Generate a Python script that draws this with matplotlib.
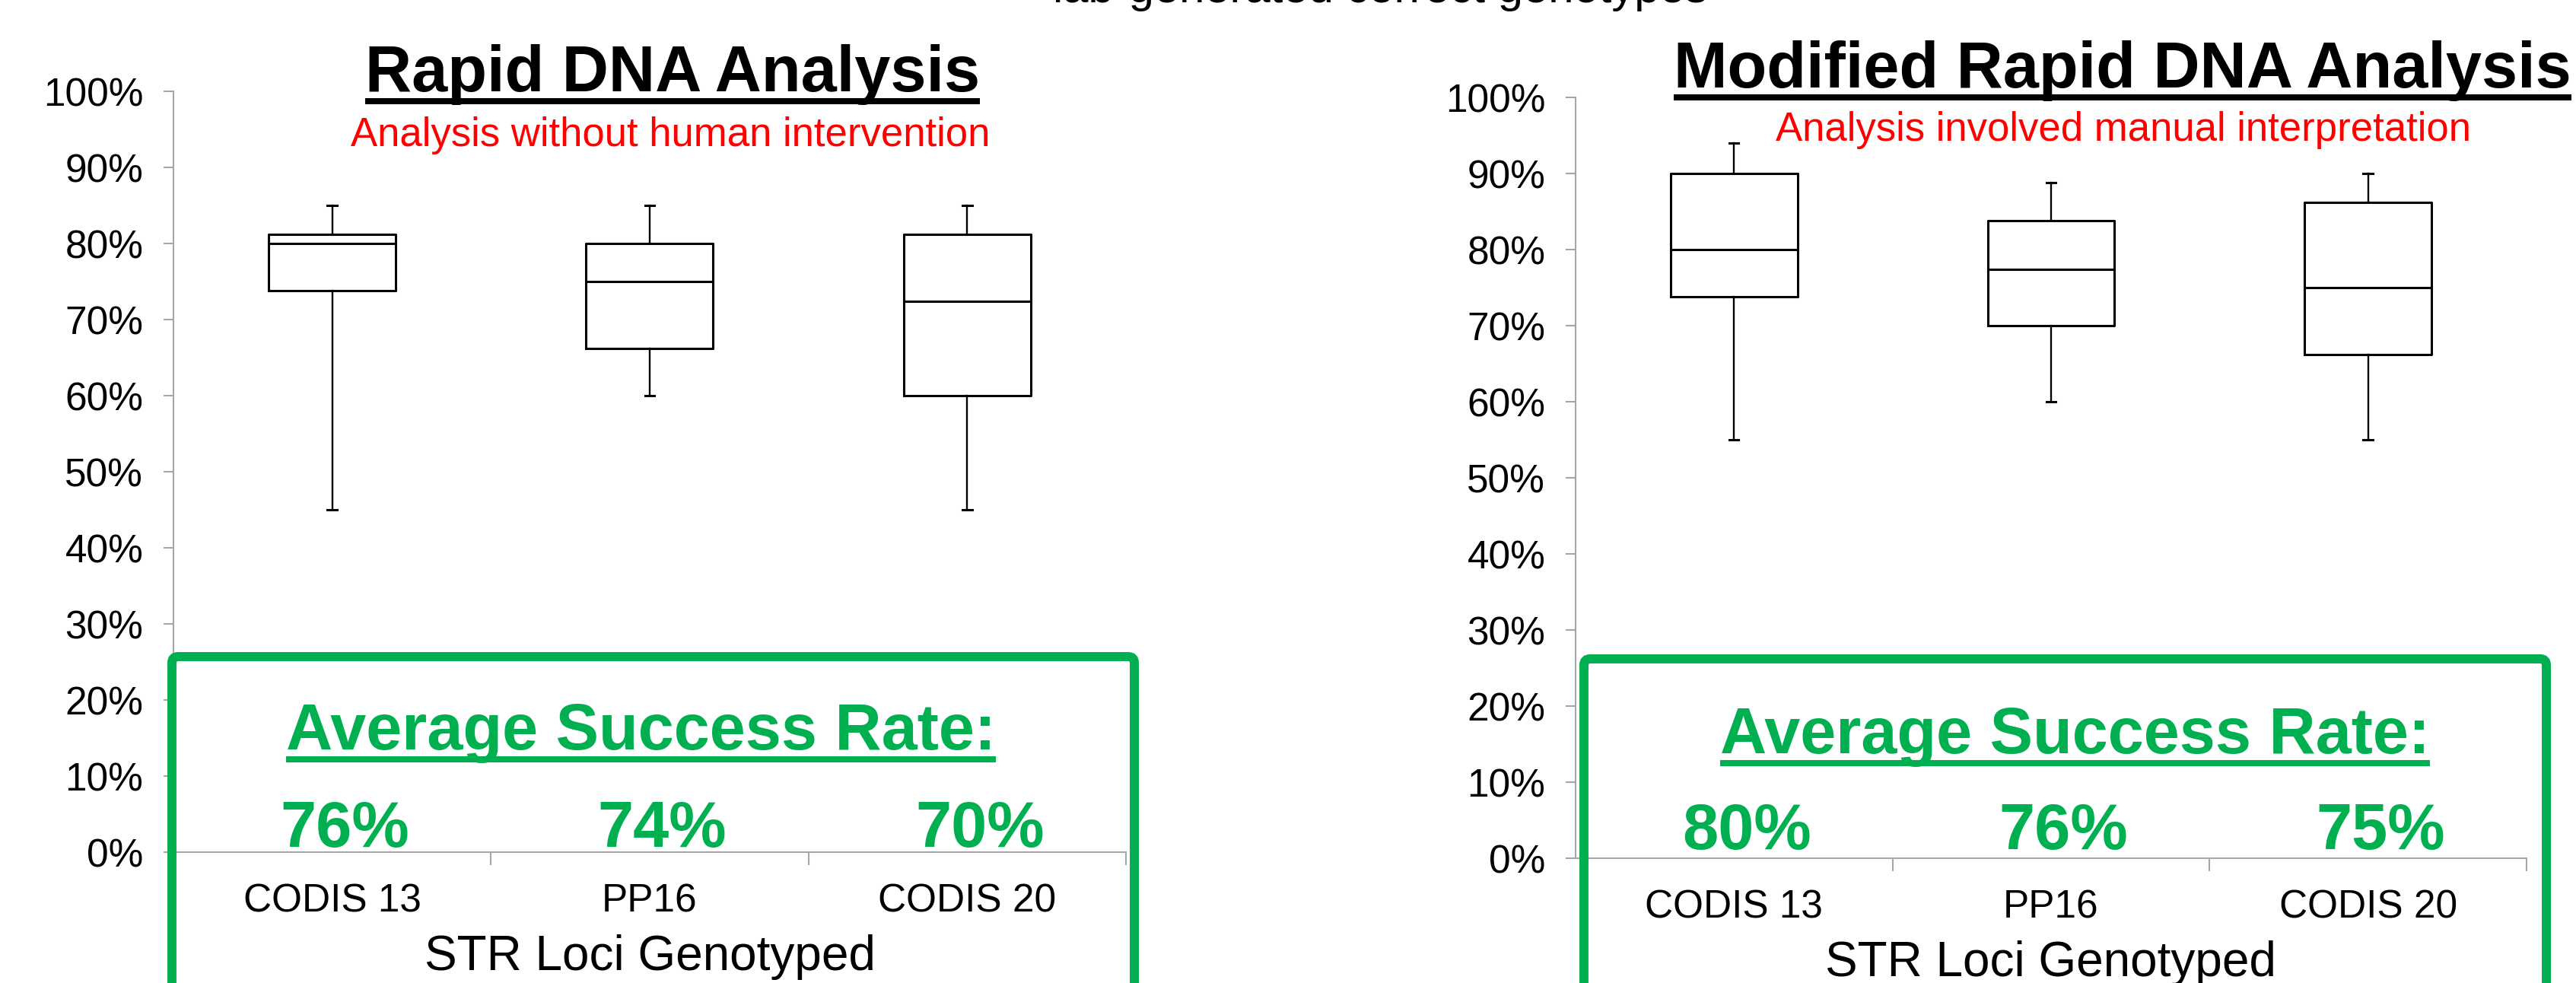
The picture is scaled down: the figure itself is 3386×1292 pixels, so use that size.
import matplotlib
matplotlib.use("Agg")
import matplotlib.pyplot as plt
from matplotlib.patches import FancyBboxPatch
from matplotlib.lines import Line2D
from matplotlib.transforms import IdentityTransform
from matplotlib.ticker import PercentFormatter

plt.rcParams['font.family'] = ['Liberation Sans', 'DejaVu Sans']

loci = ['CODIS 13', 'PP16', 'CODIS 20']

# Rapid DNA analysis, automatic allele calls (percent of loci correct)
rapid_low = [45, 60, 45]
rapid_q1 = [73.8, 66.2, 60]
rapid_med = [80, 75, 72.4]
rapid_q3 = [81.2, 80, 81.2]
rapid_high = [85, 85, 85]
rapid_avg = ['76%', '74%', '70%']

# Modified rapid DNA analysis, manual interpretation
mod_low = [55, 60, 55]
mod_q1 = [73.8, 70, 66.2]
mod_med = [80, 77.4, 75]
mod_q3 = [90, 83.8, 86.2]
mod_high = [94, 88.8, 90]
mod_avg = ['80%', '76%', '75%']

GREEN = '#00B050'
GRAY = '#A6A6A6'

fig = plt.figure(figsize=(33.86, 12.92), dpi=100)
ax1 = fig.add_axes([0.0673, 0.1331, 0.3698, 0.774])
ax2 = fig.add_axes([0.6116, 0.1269, 0.3692, 0.774])


def draw_panel(ax, low, q1, med, q3, high):
    stats = []
    for lo, a, m, b, hi in zip(low, q1, med, q3, high):
        stats.append(dict(whislo=lo, q1=a, med=m, q3=b, whishi=hi, fliers=[]))
    ax.bxp(stats, positions=[1, 2, 3], widths=0.4, capwidths=0.03,
           showfliers=False,
           boxprops=dict(color='black', linewidth=2.2),
           medianprops=dict(color='black', linewidth=2.2),
           whiskerprops=dict(color='black', linewidth=1.7),
           capprops=dict(color='black', linewidth=2.2))
    ax.set_xlim(0.5, 3.5)
    ax.set_ylim(0, 100)
    for side in ['top', 'right']:
        ax.spines[side].set_visible(False)
    for side in ['left', 'bottom']:
        ax.spines[side].set_color(GRAY)
        ax.spines[side].set_linewidth(1.5)
    ax.set_yticks(range(0, 101, 10))
    ax.yaxis.set_major_formatter(PercentFormatter(xmax=100, decimals=0))
    ax.tick_params(axis='y', direction='out', length=9.5, width=1.5,
                   color=GRAY, labelsize=37, pad=19)
    ax.set_xticks([1.5, 2.5, 3.5])
    ax.set_xticklabels([])
    ax.set_xticks([1, 2, 3], minor=True)
    ax.set_xticklabels(loci, minor=True)
    ax.tick_params(axis='x', which='major', direction='out', length=12,
                   width=1.5, color=GRAY)
    ax.tick_params(axis='x', which='minor', length=0, labelsize=37, pad=29)
    ax.text(0.5, -0.155, 'STR Loci Genotyped', transform=ax.transAxes,
            ha='center', va='baseline', fontsize=46)


draw_panel(ax1, rapid_low, rapid_q1, rapid_med, rapid_q3, rapid_high)
draw_panel(ax2, mod_low, mod_q1, mod_med, mod_q3, mod_high)

underlined = []

t = ax1.text(0.524, 1.0, 'Rapid DNA Analysis', transform=ax1.transAxes,
             ha='center', va='baseline', fontsize=61, fontweight='bold')
underlined.append(t)
t = ax2.text(0.575, 1.013, 'Modified Rapid DNA Analysis', transform=ax2.transAxes,
             ha='center', va='baseline', fontsize=61, fontweight='bold')
underlined.append(t)

ax1.text(0.522, 0.928, 'Analysis without human intervention', transform=ax1.transAxes,
         ha='center', va='baseline', fontsize=38, color='red')
ax2.text(0.576, 0.943, 'Analysis involved manual interpretation', transform=ax2.transAxes,
         ha='center', va='baseline', fontsize=38, color='red')

# success-rate callouts inside the green frames
for ax, avgs, yb, yh in [(ax1, rapid_avg, 0.007, 0.135), (ax2, mod_avg, 0.012, 0.138)]:
    hx = 0.491 if ax is ax1 else 0.525
    t = ax.text(hx, yh, 'Average Success Rate:', transform=ax.transAxes,
                ha='center', va='baseline', fontsize=61, fontweight='bold',
                color=GREEN, zorder=6)
    underlined.append(t)
    for pos, label in zip([1, 2, 3], avgs):
        ax.text(pos + 0.04, yb, label, transform=ax.get_xaxis_transform(),
                ha='center', va='baseline', fontsize=61, fontweight='bold',
                color=GREEN, zorder=6)

fig.text(0.5357, 1 - 3 / 1292, 'lab-generated correct genotypes',
         ha='center', va='baseline', fontsize=43)

# open-bottomed green frames (pixel coordinates)
for x0, top in [(226, 429), (2082, 426)]:
    frame = FancyBboxPatch((x0, -60), 1265, top + 60,
                           boxstyle='round,pad=0,rounding_size=8',
                           transform=IdentityTransform(), facecolor='none',
                           edgecolor=GREEN, linewidth=8.6, zorder=5)
    fig.add_artist(frame)

fig.canvas.draw()
renderer = fig.canvas.get_renderer()
for t in underlined:
    bb = t.get_window_extent(renderer)
    _, yb = t.get_transform().transform(t.get_position())
    fig.add_artist(Line2D([bb.x0, bb.x1], [yb - 13, yb - 13],
                          transform=IdentityTransform(), color=t.get_color(),
                          linewidth=5.8, solid_capstyle='butt', zorder=7))

fig.savefig('out.png', dpi=100)
